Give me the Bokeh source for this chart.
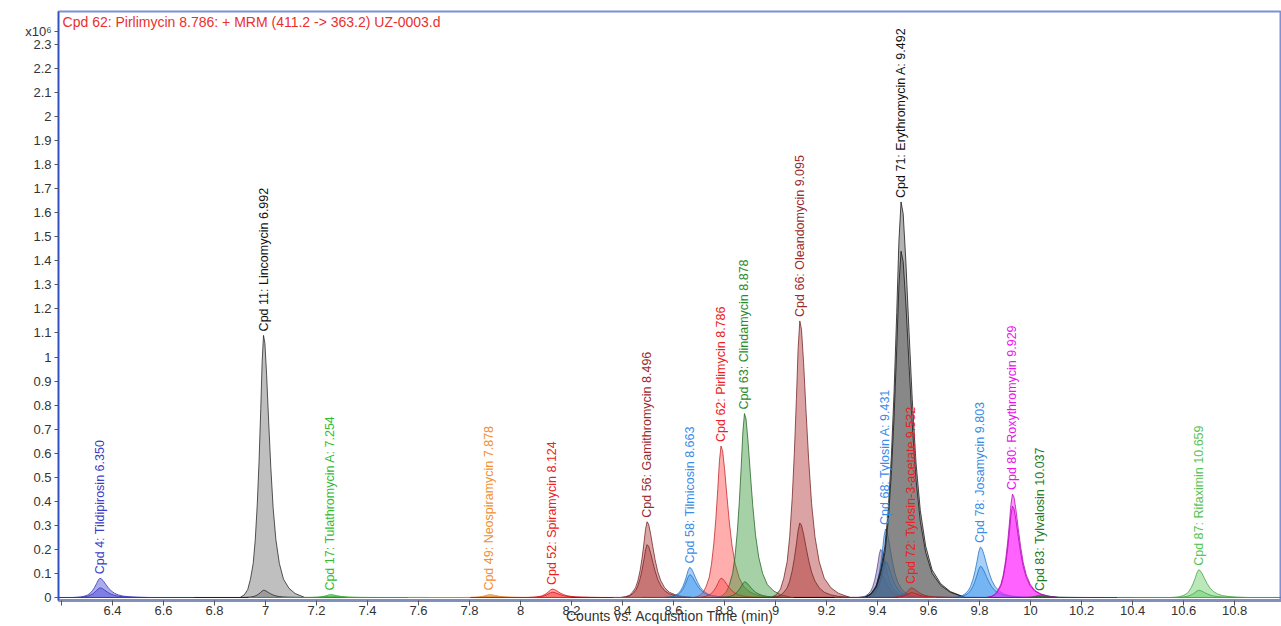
from bokeh.plotting import figure
from bokeh.models import Range1d, FixedTicker, Label, ColumnDataSource
from bokeh.core.properties import value
from bokeh.embed import file_html
from bokeh.resources import INLINE
import numpy as np

# ---- data (intensity in x10^6 counts) ----
labels = [
    "Cpd 4: Tildipirosin 6.350", "Cpd 11: Lincomycin 6.992", "Cpd 17: Tulathromycin A: 7.254",
    "Cpd 49: Neospiramycin 7.878", "Cpd 52: Spiramycin 8.124", "Cpd 56: Gamithromycin 8.496",
    "Cpd 58: Tilmicosin 8.663", "Cpd 62: Pirlimycin 8.786", "Cpd 63: Clindamycin 8.878",
    "Cpd 66: Oleandomycin 9.095", "Cpd 68: Tylosin A: 9.431", "Cpd 71: Erythromycin A: 9.492",
    "Cpd 72: Tylosin-3-acetate 9.532", "Cpd 78: Josamycin 9.803", "Cpd 80: Roxythromycin 9.929",
    "Cpd 83: Tylvalosin 10.037", "Cpd 87: Rifaximin 10.659",
]
rt = [6.350, 6.992, 7.254, 7.878, 8.124, 8.496, 8.663, 8.786, 8.878,
      9.095, 9.431, 9.492, 9.532, 9.803, 9.929, 10.037, 10.659]
quant_height = [0.08, 1.09, 0.012, 0.012, 0.035, 0.315, 0.125, 0.63, 0.765,
                1.15, 0.285, 1.645, 0.04, 0.21, 0.43, 0.01, 0.115]
qual_height = [0.04, 0.03, 0.006, 0.006, 0.022, 0.22, 0.095, 0.08, 0.065,
               0.31, 0.15, 1.44, 0.02, 0.13, 0.38, 0.005, 0.03]
peak_width = [0.032, 0.027, 0.032, 0.032, 0.032, 0.03, 0.03, 0.031, 0.031,
              0.033, 0.027, 0.042, 0.03, 0.032, 0.03, 0.03, 0.032]
fill_colors = ["#4848d8", "#707070", "#3ecf3e", "#f5a040", "#ff3a3a", "#b03a3a",
               "#3b94f0", "#ff4a4a", "#3a9a3a", "#b03232", "#3b94f0", "#555555",
               "#ff3030", "#3b94f0", "#ff20ff", "#208a20", "#66cc66"]
line_colors = ["#3030b0", "#202020", "#2aa82a", "#e08020", "#d01010", "#702020",
               "#2070c0", "#c02020", "#206020", "#702020", "#2070c0", "#101010",
               "#c01010", "#2070c0", "#b000b0", "#106010", "#40a040"]
label_colors = ["#3c3cc8", "#111111", "#33bb33", "#f09030", "#ee2020", "#9c2a2a",
                "#3b8be8", "#ee2020", "#2a8a2a", "#9c2a2a", "#3b8be8", "#111111",
                "#ee2020", "#3b8be8", "#ee10ee", "#1e7a1e", "#55c455"]

# unlabeled co-eluting trace under Tylosin A
extra_rt = [9.412]
extra_quant = [0.20]
extra_qual = [0.10]
extra_color = ["#6a5aa8"]

# shared peak profile (offset in half-widths, relative height), read from Lincomycin peak
profile_offset = [-10, -3.4, -2.8, -2.3, -1.9, -1.5, -1.2, -0.9, -0.65, -0.4, -0.2, 0.0,
                  0.2, 0.45, 0.75, 1.05, 1.4, 1.8, 2.3, 2.9, 3.7, 4.6, 6.0, 12]
profile_frac = [0, 0, 0.01, 0.03, 0.07, 0.13, 0.22, 0.36, 0.52, 0.72, 0.9, 1.0,
                0.97, 0.85, 0.67, 0.5, 0.34, 0.22, 0.13, 0.07, 0.035, 0.015, 0, 0]

x_ticks = [6.2, 6.4, 6.6, 6.8, 7.0, 7.2, 7.4, 7.6, 7.8, 8.0, 8.2, 8.4, 8.6, 8.8,
           9.0, 9.2, 9.4, 9.6, 9.8, 10.0, 10.2, 10.4, 10.6, 10.8]
y_ticks = [round(i * 0.1, 1) for i in range(24)]
y_exponent_pos = 2.354
y_exponent_text = "x10\u2076"

title_text = "Cpd 62: Pirlimycin 8.786: + MRM (411.2 -> 363.2) UZ-0003.d"
x_title = "Counts vs. Acquisition Time (min)"

FONT = "Liberation Sans"

p = figure(width=1281, height=626, output_backend="svg", toolbar_location=None,
           x_range=Range1d(6.188, 10.984), y_range=Range1d(-0.0125, 2.437),
           min_border_left=58, min_border_right=0, min_border_top=11, min_border_bottom=0)
p.background_fill_color = "white"
p.border_fill_color = "white"
p.outline_line_color = "#7d8fd8"
p.outline_line_width = 2
p.xgrid.visible = False
p.ygrid.visible = False

off = np.array(profile_offset)
frac = np.array(profile_frac)


def peak_shapes(rts, heights, widths):
    xs, ys = [], []
    for r, h, w in zip(rts, heights, widths):
        xs.append(list(r + off * w))
        ys.append(list(h * frac))
    return xs, ys

# extra trace first
ex_xs, ex_ys = peak_shapes(extra_rt, extra_quant, [0.026])
ex_xs2, ex_ys2 = peak_shapes(extra_rt, extra_qual, [0.026])
p.patches(xs=ex_xs + ex_xs2, ys=ex_ys + ex_ys2, fill_color=extra_color * 2, fill_alpha=0.45,
          line_color="#4a3a88", line_alpha=0.7, line_width=1)

qx, qy = peak_shapes(rt, quant_height, peak_width)
src_q = ColumnDataSource(dict(xs=qx, ys=qy, fc=fill_colors, lc=line_colors))
p.patches(xs="xs", ys="ys", source=src_q, fill_color="fc", fill_alpha=0.45,
          line_color="lc", line_alpha=0.75, line_width=1)

lx, ly = peak_shapes(rt, qual_height, peak_width)
src_l = ColumnDataSource(dict(xs=lx, ys=ly, fc=fill_colors, lc=line_colors))
p.patches(xs="xs", ys="ys", source=src_l, fill_color="fc", fill_alpha=0.45,
          line_color="lc", line_alpha=0.75, line_width=1)

# peak labels, rotated
src_t = ColumnDataSource(dict(x=rt, y=quant_height, t=labels, c=label_colors))
p.text(x="x", y="y", text="t", source=src_t, angle=np.pi / 2, text_align="left",
       text_baseline="middle", text_color="c", text_font=value(FONT),
       text_font_size="12.5px", y_offset=-4)

# axes
p.xaxis.ticker = FixedTicker(ticks=x_ticks)
p.xaxis.major_label_overrides = {t: ("" if t == 6.2 else f"{t:g}") for t in x_ticks}
p.xaxis.minor_tick_line_color = None
p.xaxis.axis_line_color = "#8090bb"
p.xaxis.axis_line_width = 3
p.xaxis.major_tick_line_color = "#555555"
p.xaxis.major_tick_out = 5
p.xaxis.major_tick_in = 0
p.xaxis.major_label_standoff = 0
p.xaxis.major_label_text_font = FONT
p.xaxis.major_label_text_font_size = "13px"
p.xaxis.major_label_text_color = "#333333"
p.xaxis.axis_label = x_title
p.xaxis.axis_label_text_font = FONT
p.xaxis.axis_label_text_font_size = "14px"
p.xaxis.axis_label_text_font_style = "normal"
p.xaxis.axis_label_text_color = "#333333"
p.xaxis.axis_label_standoff = -10

p.yaxis.ticker = FixedTicker(ticks=y_ticks + [y_exponent_pos])
overrides = {t: f"{t:g}" for t in y_ticks}
overrides[y_exponent_pos] = y_exponent_text
p.yaxis.major_label_overrides = overrides
p.yaxis.minor_tick_line_color = None
p.yaxis.axis_line_color = "#3050c0"
p.yaxis.axis_line_width = 1.5
p.yaxis.major_tick_line_color = "#555555"
p.yaxis.major_tick_out = 4
p.yaxis.major_tick_in = 0
p.yaxis.major_label_standoff = 3
p.yaxis.major_label_text_font = FONT
p.yaxis.major_label_text_font_size = "13px"
p.yaxis.major_label_text_color = "#333333"

# title inside the frame
p.add_layout(Label(x=6.204, y=2.3915, text=title_text, text_color="#e83030",
                   text_font=FONT, text_font_size="14px", text_baseline="middle"))

open("out.html", "w").write(file_html(p, INLINE))
